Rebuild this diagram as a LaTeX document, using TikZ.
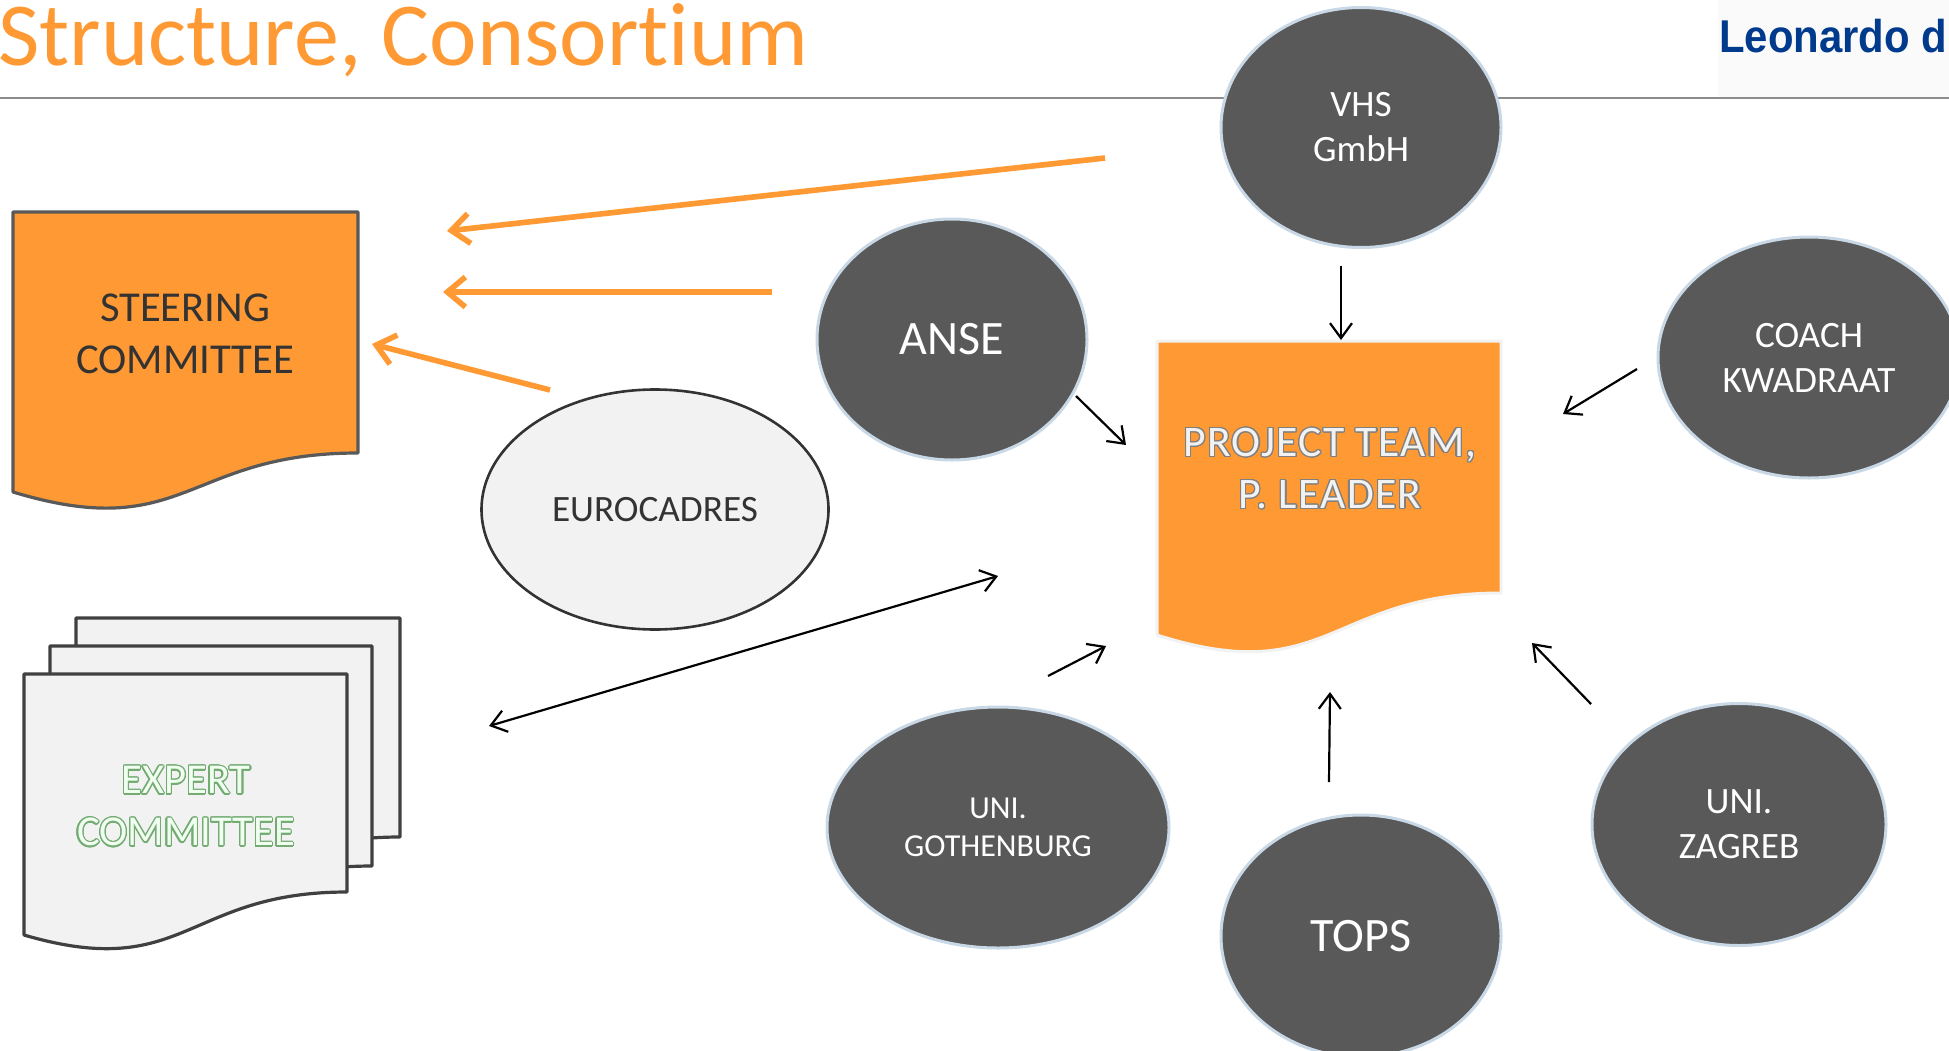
\documentclass[tikz,border=0pt]{standalone}
\usepackage{fontspec}
\usepackage{contour}
\setmainfont[Ligatures=NoCommon]{Carlito}
\newfontfamily\logofont{Liberation Sans}
\usetikzlibrary{shapes.geometric,arrows.meta}
\definecolor{consOrange}{HTML}{FF9933}
\definecolor{consDark}{HTML}{595959}
\definecolor{consPale}{HTML}{F2F2F2}
\definecolor{consEdge}{HTML}{C9D8E6}
\definecolor{consBlue}{HTML}{003A8C}
\contourlength{0.6pt}
\contournumber{20}
\newcommand{\docsheet}[6]{% style, left, top, right, right bottom, left bottom
  \pgfmathsetmacro{\midx}{(#2+#4)/2}
  \pgfmathsetmacro{\ctrly}{#6+(#5-#3)*0.2165}
  \draw[#1] (#2,#3) -- (#4,#3) -- (#4,#5)
    .. controls (\midx,#5) and (\midx,\ctrly) .. (#2,#6) -- cycle;
}
\tikzset{
  partner/.style = {shape=ellipse, draw=consEdge, line width=1.5pt, fill=consDark,
    text=white, inner sep=0pt, align=center},
  smalltext/.style = {font=\fontsize{18.6}{22.5}\selectfont},
  tinytext/.style = {font=\fontsize{16}{19}\selectfont},
  bigtext/.style = {font=\fontsize{24}{26}\selectfont},
  sheettext/.style = {font=\fontsize{21.3}{26}\selectfont, align=center},
  orangesheet/.style = {fill=consOrange, draw=consDark, line width=1.6pt, line join=round},
  greysheet/.style = {fill=consPale, draw=black!75, line width=1.6pt, line join=round},
  leadsheet/.style = {fill=consOrange, draw=consPale, line width=1.5pt, line join=round},
  orangearrow/.style = {draw=consOrange, line width=2.8pt,
    -{Straight Barb[length=9pt,width=15pt,line width=2.8pt]}},
  blackarrow/.style = {draw=black, line width=1.1pt,
    -{Straight Barb[length=7.5pt,width=11pt,line width=1.1pt]}},
}
\begin{document}
\begin{tikzpicture}[x=0.5pt, y=-0.5pt]
  \useasboundingbox (0,0) rectangle (1949,1050);
  % header
  \draw[black!45, line width=0.7pt] (0,98) -- (1949,98);
  \node[anchor=base west, inner sep=0pt, text=consOrange,
    font=\fontsize{45}{50}\selectfont] (title) at (-2,65) {Structure, Consortium};
  \fill[white!98!black] (1718,0) rectangle (1949,97);
  \node[anchor=base west, inner sep=0pt, text=consBlue, xscale=0.91,
    font=\logofont\bfseries\fontsize{23}{26}\selectfont] (logo) at (1719,52) {Leonardo d};
  % committees
  \docsheet{orangesheet}{13}{212}{358}{453}{492}
  \node[sheettext, text=black!80] (steering) at (185,334) {STEERING\\COMMITTEE};
  \docsheet{greysheet}{76}{618}{400}{837}{880}
  \docsheet{greysheet}{50}{646}{372}{866}{908}
  \docsheet{greysheet}{24}{674}{347}{892}{935}
  \node[sheettext, text=green!6!white] (expert) at (186,807)
    {\contour{green!40!black!55}{EXPERT}\\\contour{green!40!black!55}{COMMITTEE}};
  % project team
  \docsheet{leadsheet}{1157}{341}{1501}{593}{635}
  \node[sheettext, text=consPale, font=\fontsize{21.8}{26}\addfontfeature{LetterSpace=3}\selectfont] (leader) at (1330,469)
    {\contour{black!50}{PROJECT TEAM,}\\\contour{black!50}{P. LEADER}};
  % partners
  \node[partner, smalltext, minimum width=140pt, minimum height=120pt] (vhs) at (1361,127.5) {VHS\\GmbH};
  \node[partner, bigtext, minimum width=135pt, minimum height=120.5pt] (anse) at (952,339.5) {ANSE};
  \node[partner, smalltext, minimum width=151pt, minimum height=120.5pt] (coach) at (1809,357.5) {COACH\\KWADRAAT};
  \node[partner, smalltext, minimum width=147pt, minimum height=121pt] (zagreb) at (1739,824.5) {UNI.\\ZAGREB};
  \node[partner, tinytext, minimum width=171pt, minimum height=120.5pt] (gothenburg) at (998,827.5) {UNI.\\GOTHENBURG};
  \node[partner, bigtext, minimum width=140pt, minimum height=121pt] (tops) at (1361,936) {TOPS};
  \node[shape=ellipse, draw=black!80, line width=1.3pt, fill=consPale, inner sep=0pt, text=black!80,
    smalltext, minimum width=173.5pt, minimum height=120pt] (eurocadres) at (655,509.5) {EUROCADRES};
  % free ends of the arrows
  \coordinate (vhsfar) at (1105,158);
  \coordinate (steerfar) at (447,231);
  \coordinate (ansefar) at (772,292);
  \coordinate (steermid) at (443,292);
  \coordinate (eurofar) at (550,390);
  \coordinate (steerlow) at (372,344);
  \coordinate (vhsout) at (1341,266);
  \coordinate (leadertop) at (1341,340);
  \coordinate (anseout) at (1076,396);
  \coordinate (leaderleft) at (1126,445);
  \coordinate (coachout) at (1637,369);
  \coordinate (leaderright) at (1563,414);
  \coordinate (zagrebout) at (1591,704);
  \coordinate (leaderlow) at (1532,643);
  \coordinate (topsout) at (1329,782);
  \coordinate (leaderbase) at (1330,692);
  \coordinate (gothout) at (1048,676);
  \coordinate (leadercorner) at (1106,646);
  \coordinate (expertend) at (489,726);
  \coordinate (leaderend) at (998,576);
  % arrows
  \draw[orangearrow] (vhsfar) -- (steerfar);
  \draw[orangearrow] (ansefar) -- (steermid);
  \draw[orangearrow] (eurofar) -- (steerlow);
  \draw[blackarrow] (vhsout) -- (leadertop);
  \draw[blackarrow] (anseout) -- (leaderleft);
  \draw[blackarrow] (coachout) -- (leaderright);
  \draw[blackarrow] (zagrebout) -- (leaderlow);
  \draw[blackarrow] (topsout) -- (leaderbase);
  \draw[blackarrow] (gothout) -- (leadercorner);
  \draw[blackarrow, {Straight Barb[length=7.5pt,width=11pt,line width=1.1pt]}-{Straight Barb[length=7.5pt,width=11pt,line width=1.1pt]}] (expertend) -- (leaderend);
\end{tikzpicture}
\end{document}
